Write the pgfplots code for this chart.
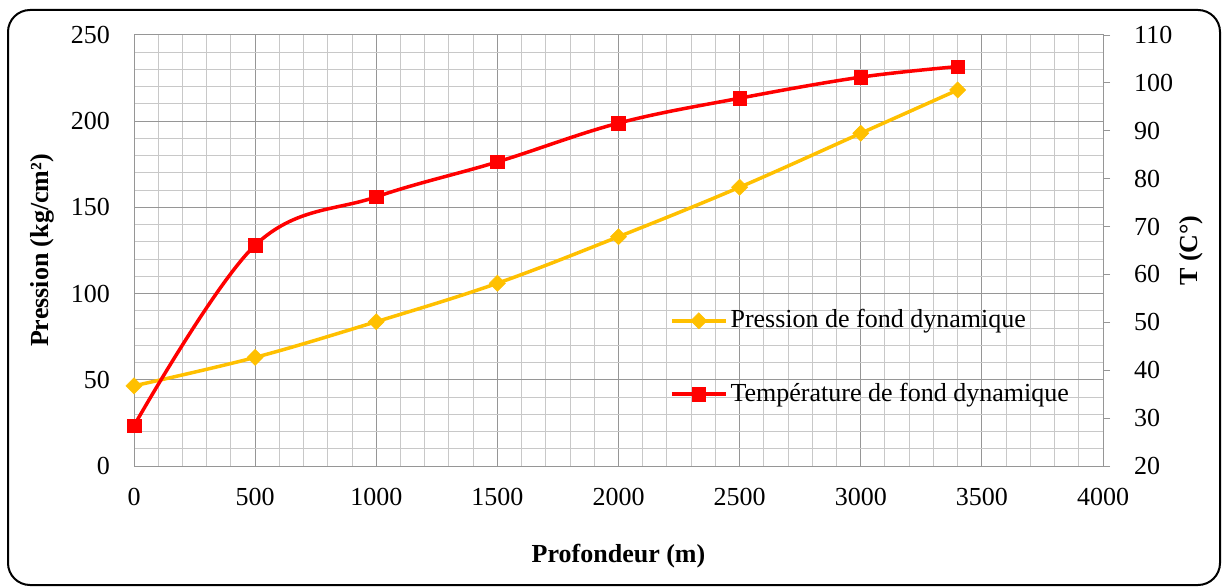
\documentclass[border=0pt]{standalone}
\usepackage{fontspec}
\setmainfont{Liberation Serif}
\usepackage{pgfplots}
\usepackage{pgfplotstable}
\pgfplotsset{compat=1.18}

\definecolor{presscol}{RGB}{255,192,0}
\definecolor{tempcol}{RGB}{255,0,0}
\definecolor{gridmaj}{RGB}{150,150,150}
\definecolor{gridmin}{RGB}{200,200,200}

% Bottom-hole pressure (kg/cm2) versus depth (m)
\pgfplotstableread{
depth press
0     46.5
500   63.0
1000  83.7
1500  106.0
2000  133.0
2500  161.7
3000  193.0
3400  218.1
}\pressiontable

% Bottom-hole temperature (C) versus depth (m)
\pgfplotstableread{
depth temp
0     28.4
500   66.1
1000  76.2
1500  83.5
2000  91.6
2500  96.8
3000  101.2
3400  103.4
}\temptable

\pgfplotsset{
  pressstyle/.style={color=presscol, line width=3.5pt, smooth, tension=0.6,
    mark=square*, mark size=5.7pt, mark options={solid, line width=0.5pt, rotate=45}},
  tempstyle/.style={color=tempcol, line width=3.5pt, smooth, tension=0.6,
    mark=square*, mark size=6.8pt, mark options={solid, line width=0.5pt}},
  frame/.style={at={(134pt,121pt)}, anchor=south west, scale only axis,
    width=969pt, height=431pt, xmin=0, xmax=4000,
    /pgf/number format/1000 sep={},
    /pgf/number format/assume math mode=true,
    tick label style={font=\fontsize{26}{31}\selectfont},
    label style={font=\fontsize{26}{31}\selectfont\bfseries}},
}

\begin{document}
\fontsize{26}{31}\selectfont
\begin{tikzpicture}
\useasboundingbox (0pt,0pt) rectangle (1222pt,587pt);
\draw[line width=2pt, rounded corners=22pt] (8pt,2pt) rectangle (1220pt,577pt);

% Left axis: pressure, with the grid
\begin{axis}[frame,
  ymin=0, ymax=250,
  xtick={0,500,...,4000}, ytick={0,50,...,250},
  minor x tick num=4, minor y tick num=4,
  grid=both,
  major grid style={draw=gridmaj, line width=1pt},
  minor grid style={draw=gridmin, line width=1pt},
  axis line style={draw=gridmaj, line width=1pt},
  major tick length=0pt, minor tick length=0pt,
  xtick pos=bottom, ytick pos=left,
  xticklabel style={anchor=north, inner sep=0pt, yshift=-22pt},
  yticklabel style={anchor=east, inner sep=0pt, xshift=-24pt},
  xlabel={Profondeur (m)},
  xlabel style={at={(axis description cs:0.5,-0.2088)}, anchor=center},
  ylabel={Pression (kg/cm²)},
  ylabel style={at={(axis description cs:-0.0949,0.5)}, anchor=center},
]
\addplot[pressstyle] table[x=depth, y=press] {\pressiontable};
\end{axis}

% Right axis: temperature
\begin{axis}[frame,
  ymin=20, ymax=110, ytick={20,30,...,110},
  axis x line=none, axis y line*=right,
  axis line style={-, draw=gridmaj, line width=1pt},
  every outer y axis line/.append style={-},
  tick align=outside, major tick length=7pt,
  ytick style={draw=gridmaj, line width=1pt},
  yticklabel style={anchor=west, inner sep=0pt, xshift=24pt},
  ylabel={T (C°)},
  ylabel style={at={(axis description cs:1.0908,0.5)}, anchor=center},
  legend cell align=left,
  legend image code/.code={\draw[mark repeat=2, mark phase=2, #1]
    plot coordinates {(0pt,0pt) (27pt,0pt) (54pt,0pt)};},
  legend style={at={(axis description cs:0.553,0.252)}, anchor=west,
    draw=none, fill=none, inner sep=0pt, row sep=51pt, column sep=3pt,
    font=\fontsize{26}{31}\selectfont, nodes={inner sep=0pt}},
]
\addlegendimage{pressstyle}
\addlegendentry{Pression de fond dynamique}
\addplot[tempstyle] table[x=depth, y=temp] {\temptable};
\addlegendentry{Température de fond dynamique}
\end{axis}
\end{tikzpicture}
\end{document}
